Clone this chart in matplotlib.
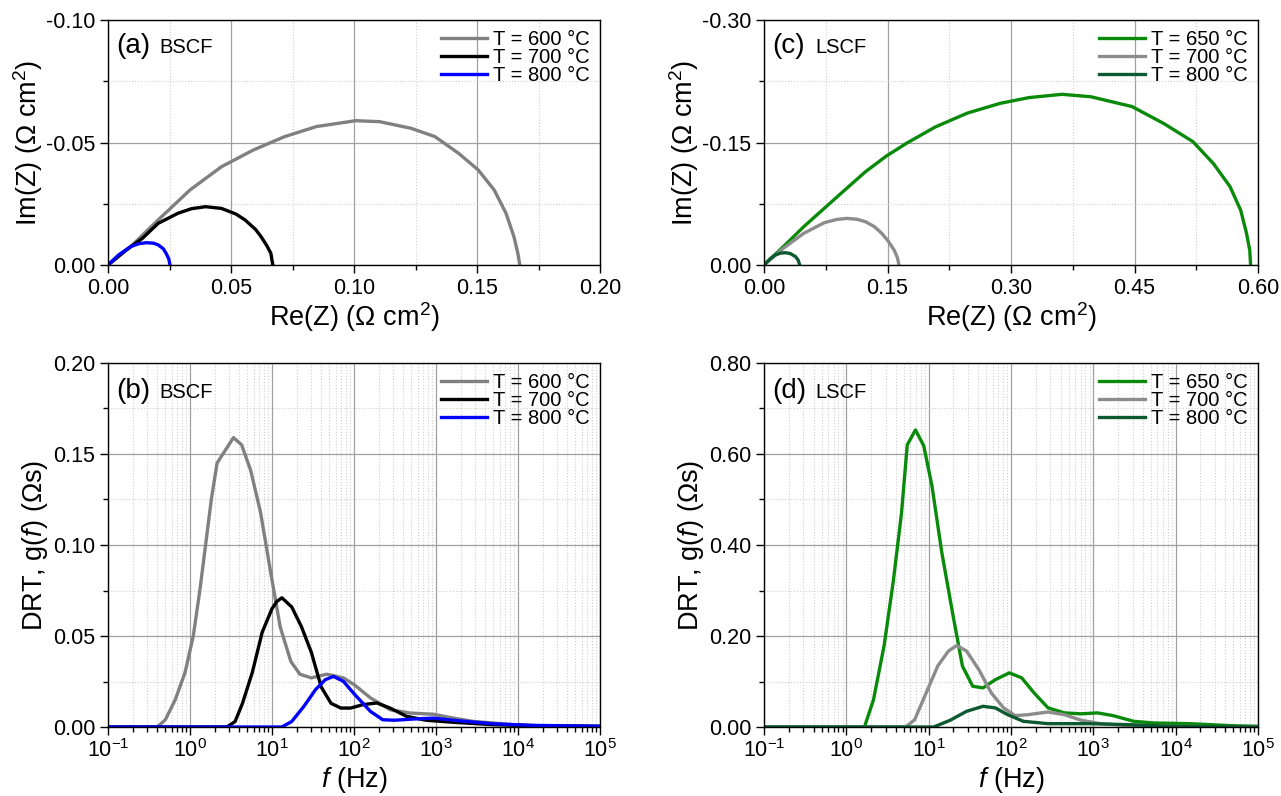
import numpy as np
import matplotlib
matplotlib.use('Agg')
import matplotlib.pyplot as plt
from matplotlib.ticker import MultipleLocator, LogLocator, NullFormatter, FormatStrFormatter

plt.rcParams['font.family'] = ['Liberation Sans', 'DejaVu Sans']
plt.rcParams['mathtext.fontset'] = 'custom'
plt.rcParams['mathtext.rm'] = 'Liberation Sans'
plt.rcParams['mathtext.it'] = 'Liberation Sans:italic'
plt.rcParams['axes.unicode_minus'] = False

# Nyquist data, BSCF (Re, Im in Ohm cm2; Im is negative)
re_b600 = [0.0, 0.0092, 0.0204, 0.0333, 0.0461, 0.0590, 0.0718, 0.0847, 0.1007, 0.1104,
           0.1232, 0.1329, 0.1425, 0.1505, 0.1570, 0.1618, 0.1650, 0.1666, 0.1674]
im_b600 = [0.0, -0.0075, -0.0184, -0.0306, -0.0401, -0.0469, -0.0524, -0.0565, -0.0589, -0.0585,
           -0.0558, -0.0524, -0.0456, -0.0388, -0.0306, -0.0211, -0.0116, -0.0048, 0.0]
re_b700 = [0.0, 0.0070, 0.0140, 0.0204, 0.0284, 0.0340, 0.0397, 0.0461, 0.0520, 0.0557,
           0.0600, 0.0622, 0.0645, 0.0662, 0.0670]
im_b700 = [0.0, -0.0058, -0.0109, -0.0170, -0.0211, -0.0230, -0.0238, -0.0231, -0.0208, -0.0184,
           -0.0145, -0.0116, -0.0080, -0.0048, 0.0]
re_b800 = [0.0, 0.0043, 0.0092, 0.0125, 0.0156, 0.0185, 0.0204, 0.0225, 0.0236, 0.0247, 0.0252]
im_b800 = [0.0, -0.0041, -0.0075, -0.0087, -0.0091, -0.0089, -0.0082, -0.0066, -0.0048, -0.0025, 0.0]

# Nyquist data, LSCF
re_l650 = [0.0, 0.0234, 0.0483, 0.0732, 0.0981, 0.123, 0.148, 0.173, 0.208, 0.247, 0.287,
           0.322, 0.362, 0.397, 0.447, 0.486, 0.521, 0.546, 0.566, 0.579, 0.586, 0.590, 0.591]
im_l650 = [0.0, -0.0224, -0.0469, -0.0694, -0.0918, -0.114, -0.133, -0.149, -0.169, -0.186, -0.198,
           -0.205, -0.209, -0.206, -0.194, -0.173, -0.151, -0.124, -0.096, -0.067, -0.039, -0.018, 0.0]
re_l700 = [0.0, 0.0234, 0.0483, 0.0732, 0.0880, 0.1006, 0.113, 0.123, 0.134, 0.143, 0.151,
           0.158, 0.162, 0.164]
im_l700 = [0.0, -0.0204, -0.0388, -0.0518, -0.0557, -0.0571, -0.0560, -0.0531, -0.0470, -0.0388,
           -0.0290, -0.0184, -0.0090, 0.0]
re_l800 = [0.0, 0.0070, 0.0134, 0.0200, 0.0259, 0.0320, 0.0383, 0.0415, 0.0433]
im_l800 = [0.0, -0.0070, -0.0122, -0.0145, -0.0151, -0.0140, -0.0102, -0.0060, 0.0]

# DRT data: log10 of frequency (Hz) and g(f) (Ohm s)
logf_b600 = [-1.0, -0.40, -0.30, -0.18, -0.06, 0.04, 0.12, 0.19, 0.26, 0.33, 0.43, 0.53, 0.63,
             0.74, 0.86, 0.98, 1.10, 1.23, 1.34, 1.48, 1.67, 1.87, 2.01, 2.20, 2.44, 2.68,
             2.97, 3.21, 3.45, 3.93, 4.41, 5.0]
g_b600 = [0.0, 0.0, 0.004, 0.015, 0.030, 0.050, 0.075, 0.100, 0.125, 0.145, 0.152, 0.159, 0.155,
          0.141, 0.118, 0.086, 0.055, 0.036, 0.029, 0.027, 0.029, 0.027, 0.023, 0.016, 0.0095, 0.0077,
          0.0070, 0.0049, 0.0031, 0.0013, 0.0004, 0.0003]
logf_b700 = [-1.0, 0.45, 0.55, 0.64, 0.76, 0.88, 1.00, 1.06, 1.12, 1.24, 1.36, 1.48, 1.60, 1.72,
             1.84, 1.96, 2.11, 2.28, 2.44, 2.64, 2.88, 3.21, 3.69, 4.17, 5.0]
g_b700 = [0.0, 0.0, 0.003, 0.013, 0.030, 0.052, 0.065, 0.069, 0.071, 0.066, 0.055, 0.041, 0.022,
          0.013, 0.0104, 0.0104, 0.0123, 0.0132, 0.0104, 0.0059, 0.0037, 0.0026, 0.0013, 0.0007, 0.0004]
logf_b800 = [-1.0, 1.12, 1.24, 1.39, 1.53, 1.65, 1.75, 1.87, 2.01, 2.20, 2.35, 2.49, 2.73, 2.97,
             3.21, 3.69, 4.17, 5.0]
g_b800 = [0.0, 0.0, 0.003, 0.0114, 0.0205, 0.026, 0.0278, 0.0251, 0.0178, 0.0086, 0.004, 0.0037,
          0.0044, 0.0049, 0.0037, 0.0018, 0.0009, 0.0004]

logf_l650 = [-1.0, 0.22, 0.33, 0.46, 0.57, 0.67, 0.74, 0.84, 0.94, 1.04, 1.16, 1.29, 1.41, 1.535,
             1.66, 1.81, 1.98, 2.13, 2.28, 2.45, 2.65, 2.85, 3.05, 3.24, 3.49, 3.74, 4.18, 4.68, 5.0]
g_l650 = [0.0, 0.0, 0.06, 0.18, 0.32, 0.47, 0.62, 0.653, 0.618, 0.53, 0.383, 0.251, 0.134, 0.0895,
          0.086, 0.104, 0.119, 0.108, 0.075, 0.042, 0.031, 0.029, 0.031, 0.025, 0.0125, 0.0088,
          0.0073, 0.0029, 0.0015]
logf_l700 = [-1.0, 0.72, 0.83, 0.97, 1.11, 1.24, 1.34, 1.46, 1.61, 1.76, 1.91, 2.05, 2.20, 2.45,
             2.65, 2.85, 3.09, 3.44, 3.94, 5.0]
g_l700 = [0.0, 0.0, 0.016, 0.075, 0.134, 0.167, 0.179, 0.167, 0.126, 0.075, 0.042, 0.025, 0.027,
          0.033, 0.027, 0.015, 0.0073, 0.0029, 0.0015, 0.0]
logf_l800 = [-1.0, 1.06, 1.26, 1.46, 1.66, 1.81, 1.96, 2.15, 2.45, 2.95, 3.44, 3.94, 5.0]
g_l800 = [0.0, 0.0, 0.0147, 0.0345, 0.0455, 0.042, 0.027, 0.0125, 0.0073, 0.0073, 0.0051, 0.0015, 0.0]

labels_bscf = ['T = 600 °C', 'T = 700 °C', 'T = 800 °C']
labels_lscf = ['T = 650 °C', 'T = 700 °C', 'T = 800 °C']
colors_bscf = ['#808080', '#000000', '#0000ff']
colors_lscf = ['#0a8a0a', '#8c8c8c', '#0d5a32']

LW = 2.4
TICK_FS = 15.5
LABEL_FS = 19.5


def style_axes(ax):
    ax.grid(True, which='major', color='#a0a0a0', linewidth=0.9, linestyle='-')
    ax.grid(True, which='minor', color='#cfcfcf', linewidth=0.8, linestyle=':')
    ax.set_axisbelow(True)
    ax.tick_params(which='both', direction='out', top=False, right=False, labelsize=TICK_FS, width=1)
    ax.tick_params(which='major', length=6, pad=3)
    ax.tick_params(which='minor', length=3.5)
    for s in ax.spines.values():
        s.set_linewidth(1.0)


def add_legend(ax):
    ax.legend(loc='upper right', frameon=False, fontsize=14.5, labelspacing=-0.05,
              handlelength=2.3, handletextpad=0.3, borderaxespad=0.3, borderpad=0.2)


def panel_tag(ax, tag, name, ypos):
    ax.text(0.016, ypos, tag, transform=ax.transAxes, fontsize=20, va='baseline', ha='left')
    ax.text(0.104, ypos, name, transform=ax.transAxes, fontsize=14.5, va='baseline', ha='left')


fig = plt.figure(figsize=(12.81, 7.96), dpi=100)

W = 1281
H = 796
pos_a = [108 / W, 1 - 265 / H, 492 / W, 245 / H]
pos_c = [764 / W, 1 - 265 / H, 494 / W, 245 / H]
pos_b = [108 / W, 1 - 727 / H, 492 / W, 364 / H]
pos_d = [764 / W, 1 - 727 / H, 494 / W, 364 / H]

ax_a = fig.add_axes(pos_a)
ax_c = fig.add_axes(pos_c)
ax_b = fig.add_axes(pos_b)
ax_d = fig.add_axes(pos_d)

nyq_label_x = r'Re(Z) ($\Omega$ cm$^2$)'
nyq_label_y = r'Im(Z) ($\Omega$ cm$^2$)'
drt_label_x = r'$\it{f}$ (Hz)'
drt_label_y = r'DRT, g($\it{f}$) ($\Omega$s)'

# (a) Nyquist BSCF
for re, im, lab, col in zip([re_b600, re_b700, re_b800], [im_b600, im_b700, im_b800],
                            labels_bscf, colors_bscf):
    ax_a.plot(re, im, color=col, lw=LW, label=lab)
ax_a.set_xlim(0, 0.20)
ax_a.set_ylim(0, -0.10)
ax_a.xaxis.set_major_locator(MultipleLocator(0.05))
ax_a.xaxis.set_minor_locator(MultipleLocator(0.025))
ax_a.yaxis.set_major_locator(MultipleLocator(0.05))
ax_a.yaxis.set_minor_locator(MultipleLocator(0.025))
ax_a.xaxis.set_major_formatter(FormatStrFormatter('%.2f'))
ax_a.yaxis.set_major_formatter(FormatStrFormatter('%.2f'))

# (c) Nyquist LSCF
for re, im, lab, col in zip([re_l650, re_l700, re_l800], [im_l650, im_l700, im_l800],
                            labels_lscf, colors_lscf):
    ax_c.plot(re, im, color=col, lw=LW, label=lab)
ax_c.set_xlim(0, 0.60)
ax_c.set_ylim(0, -0.30)
ax_c.xaxis.set_major_locator(MultipleLocator(0.15))
ax_c.xaxis.set_minor_locator(MultipleLocator(0.075))
ax_c.yaxis.set_major_locator(MultipleLocator(0.15))
ax_c.yaxis.set_minor_locator(MultipleLocator(0.075))
ax_c.xaxis.set_major_formatter(FormatStrFormatter('%.2f'))
ax_c.yaxis.set_major_formatter(FormatStrFormatter('%.2f'))

for ax in (ax_a, ax_c):
    ax.set_xlabel(nyq_label_x, fontsize=LABEL_FS, labelpad=1)
    ax.set_ylabel(nyq_label_y, fontsize=LABEL_FS, labelpad=1)

# (b) DRT BSCF
for lf, g, lab, col in zip([logf_b600, logf_b700, logf_b800], [g_b600, g_b700, g_b800],
                           labels_bscf, colors_bscf):
    ax_b.plot(10 ** np.array(lf), g, color=col, lw=LW, label=lab)
ax_b.set_ylim(0, 0.20)
ax_b.yaxis.set_major_locator(MultipleLocator(0.05))
ax_b.yaxis.set_minor_locator(MultipleLocator(0.025))

# (d) DRT LSCF
for lf, g, lab, col in zip([logf_l650, logf_l700, logf_l800], [g_l650, g_l700, g_l800],
                           labels_lscf, colors_lscf):
    ax_d.plot(10 ** np.array(lf), g, color=col, lw=LW, label=lab)
ax_d.set_ylim(0, 0.80)
ax_d.yaxis.set_major_locator(MultipleLocator(0.20))
ax_d.yaxis.set_minor_locator(MultipleLocator(0.10))

for ax in (ax_b, ax_d):
    ax.set_xscale('log')
    ax.set_xlim(1e-1, 1e5)
    ax.xaxis.set_major_locator(LogLocator(base=10, numticks=10))
    ax.xaxis.set_minor_locator(LogLocator(base=10, subs=np.arange(2, 10), numticks=100))
    ax.xaxis.set_minor_formatter(NullFormatter())
    ax.yaxis.set_major_formatter(FormatStrFormatter('%.2f'))
    ax.set_xlabel(drt_label_x, fontsize=LABEL_FS, labelpad=2)
    ax.set_ylabel(drt_label_y, fontsize=LABEL_FS, labelpad=2)

for ax in (ax_a, ax_b, ax_c, ax_d):
    style_axes(ax)
    add_legend(ax)

panel_tag(ax_a, '(a)', 'BSCF', 0.865)
panel_tag(ax_c, '(c)', 'LSCF', 0.865)
panel_tag(ax_b, '(b)', 'BSCF', 0.905)
panel_tag(ax_d, '(d)', 'LSCF', 0.905)

fig.savefig('out.png', dpi=100)
